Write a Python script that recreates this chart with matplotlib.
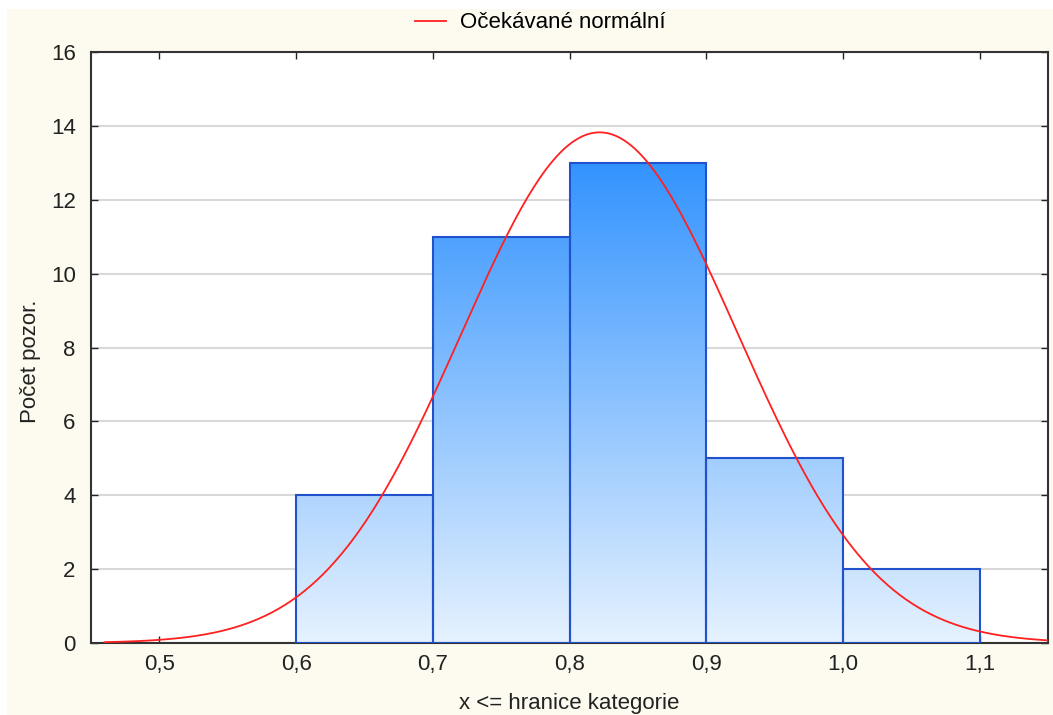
import numpy as np
import matplotlib
matplotlib.use("Agg")
import matplotlib.pyplot as plt
from matplotlib.patches import Rectangle
from matplotlib.colors import to_rgb

plt.rcParams["font.family"] = ["Liberation Sans", "DejaVu Sans"]

# histogram data
bin_edges = [0.6, 0.7, 0.8, 0.9, 1.0, 1.1]
counts = [4, 11, 13, 5, 2]
x_ticks = [0.5, 0.6, 0.7, 0.8, 0.9, 1.0, 1.1]
x_tick_labels = ["0,5", "0,6", "0,7", "0,8", "0,9", "1,0", "1,1"]
y_ticks = [0, 2, 4, 6, 8, 10, 12, 14, 16]

# expected normal (fitted to the sample)
fit_mean = 0.822
fit_sd = 0.101
curve_range = (0.46, 1.15)

FONT = 16
BG = "#fdfaef"

fig = plt.figure(figsize=(10.53, 7.15), dpi=100, facecolor="white")
fig.patches.append(Rectangle((7 / 1053, 0), 1, 1 - 9 / 715, transform=fig.transFigure,
                             facecolor=BG, edgecolor="none", zorder=-10))

ax = fig.add_axes([91 / 1053, (715 - 643) / 715, 957 / 1053, 591 / 715])
ax.set_facecolor("white")
ax.set_axisbelow(True)
ax.yaxis.grid(True, color="#d9d9d9", linewidth=1.5)

widths = np.diff(bin_edges)
bars = ax.bar(bin_edges[:-1], counts, width=widths, align="edge",
              facecolor="none", edgecolor="#1f52cc", linewidth=1.5, zorder=3)

# vertical gradient shared by all bars: dark blue at top of tallest bar, pale at 0
top_c = np.array(to_rgb("#3393ff"))
bot_c = np.array(to_rgb("#e6f2fe"))
t = np.linspace(0, 1, 256)[:, None]
grad = (bot_c[None, :] * (1 - t) + top_c[None, :] * t)[:, None, :]
for b in bars:
    im = ax.imshow(grad, extent=[0.45, 1.15, 0, max(counts)], origin="lower",
                   aspect="auto", zorder=2, interpolation="bilinear")
    im.set_clip_path(b)

xs = np.linspace(curve_range[0], curve_range[1], 300)
n = sum(counts)
expected = n * 0.1 / (fit_sd * np.sqrt(2 * np.pi)) * np.exp(-0.5 * ((xs - fit_mean) / fit_sd) ** 2)
ax.plot(xs, expected, color="#ff2020", linewidth=1.3, zorder=4, label="Očekávané normální")
ax.set_xlim(0.45, 1.15)
ax.set_ylim(0, 16)

ax.set_xticks(x_ticks)
ax.set_xticklabels(x_tick_labels)
ax.set_yticks(y_ticks)
ax.tick_params(direction="in", length=5, width=1, top=True, right=True,
               labelsize=FONT, colors="#222222", pad=8)
ax.tick_params(axis="y", pad=11)
for s in ax.spines.values():
    s.set_color("#333333")
    s.set_linewidth(1.5)

ax.set_ylabel("Počet pozor.", fontsize=FONT, color="#222222")
ax.yaxis.set_label_coords(-0.052, 0.477)
ax.set_xlabel("x <= hranice kategorie", fontsize=FONT, color="#222222", labelpad=13)

fig.legend(loc="center", bbox_to_anchor=(0.513, 0.968), frameon=False,
           fontsize=FONT, handlelength=1.4, handletextpad=0.6)

fig.savefig("out.png", dpi=100, facecolor=fig.get_facecolor())
